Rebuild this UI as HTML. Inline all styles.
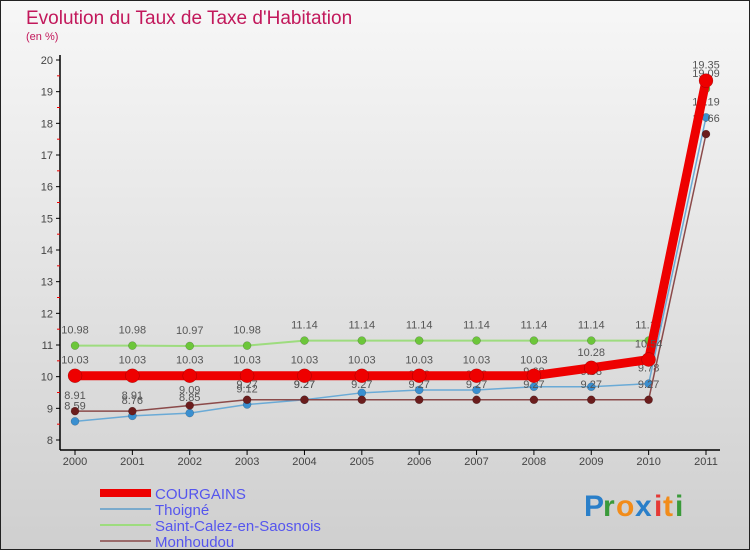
<!DOCTYPE html>
<html><head><meta charset="utf-8"><style>
body{margin:0;}
#wrap{width:750px;height:550px;position:relative;overflow:hidden;font-family:"Liberation Sans",sans-serif;}
svg text{font-family:"Liberation Sans",sans-serif;}
</style></head><body>
<div id="wrap">
<svg id="c" width="750" height="550" xmlns="http://www.w3.org/2000/svg">
<defs><linearGradient id="bg" x1="0" y1="0" x2="0" y2="1"><stop offset="0" stop-color="#f7f7f7"/><stop offset="1" stop-color="#cfcfcf"/></linearGradient></defs>
<rect x="0.5" y="0.5" width="749" height="549" fill="url(#bg)" stroke="#222"/>
<text x="26" y="24" font-size="19" fill="#c2185b">Evolution du Taux de Taxe d'Habitation</text>
<text x="26" y="40" font-size="11" fill="#c2185b">(en %)</text>
<g id="axes"></g><g id="series"></g><g id="legend"></g>
<g font-size="30" font-weight="bold">
<text x="584" y="516" fill="#2a7fc9">P</text><text x="603" y="516" fill="#3a9a3a">r</text><text x="616" y="516" fill="#f28c1a">o</text><text x="635" y="516" fill="#2a7fc9">x</text><text x="654" y="516" fill="#e53935">i</text><text x="663" y="516" fill="#f28c1a">t</text><text x="675" y="516" fill="#3a9a3a">i</text></g>
</svg></div>
<script>
const years=[2000,2001,2002,2003,2004,2005,2006,2007,2008,2009,2010,2011];
const yTicks=[8,9,10,11,12,13,14,15,16,17,18,19,20];
const courgains=[10.03,10.03,10.03,10.03,10.03,10.03,10.03,10.03,10.03,10.28,10.54,19.35];
const thoigne=[8.59,8.76,8.85,9.12,9.27,9.49,9.58,9.58,9.68,9.68,9.78,18.19];
const saintCalez=[10.98,10.98,10.97,10.98,11.14,11.14,11.14,11.14,11.14,11.14,11.14,19.09];
const monhoudou=[8.91,8.91,9.09,9.27,9.27,9.27,9.27,9.27,9.27,9.27,9.27,17.66];
const NS="http://www.w3.org/2000/svg";
function X(i){return 75+i*(706-75)/(years.length-1);}
function Y(v){return 440-(v-8)*(380/12);}
function mk(tag,attrs,parent){const e=document.createElementNS(NS,tag);for(const k in attrs)e.setAttribute(k,attrs[k]);parent.appendChild(e);return e;}
const ax=document.getElementById('axes');
let a=mk('line',{x1:60,y1:55,x2:60,y2:450,stroke:'#000','stroke-width':1.5},ax);


a=mk('line',{x1:60,y1:450,x2:720,y2:450,stroke:'#000','stroke-width':1.5},ax);


yTicks.forEach(v=>{const y=Y(v);
 mk('line',{x1:56,y1:y,x2:60,y2:y,stroke:'#000'},ax);
 if(v<20)mk('line',{x1:57,y1:Y(v+0.5),x2:60,y2:Y(v+0.5),stroke:'#e00'},ax);
 const t=mk('text',{x:53,y:y+4,'font-size':11,fill:'#444','text-anchor':'end'},ax);t.textContent=v;
 
 });
years.forEach((yr,i)=>{const x=X(i);
 mk('line',{x1:x,y1:450,x2:x,y2:455,stroke:'#000'},ax);
 const t=mk('text',{x:x,y:465,'font-size':11,fill:'#444','text-anchor':'middle'},ax);t.textContent=yr;
 
 });
const series=[
 {name:'saint-calez',label:'Saint-Calez-en-Saosnois',d:saintCalez,line:'#9ddc7e',w:2,dot:'#6cc63a',r:4},
 {name:'thoigne',label:'Thoigné',d:thoigne,line:'#6aaad6',w:1.5,dot:'#3a8fd0',r:4},
 {name:'monhoudou',label:'Monhoudou',d:monhoudou,line:'#8b4a4a',w:1.5,dot:'#6b1d1d',r:4},
 {name:'courgains',label:'COURGAINS',d:courgains,line:'#ee0000',w:9,dot:'#ee0000',r:7}];
const sg=document.getElementById('series');
series.forEach(s=>{const g=mk('g',{},sg);
 
 
 const p=mk('polyline',{points:s.d.map((v,i)=>X(i)+','+Y(v)).join(' '),fill:'none',stroke:s.line,'stroke-width':s.w,'stroke-linejoin':'round'},g);
 
 
 s.d.forEach((v,i)=>{const c=mk('circle',{cx:X(i),cy:Y(v),r:s.r,fill:s.dot,stroke:'rgba(0,0,0,0.3)','stroke-width':0.5},g);
  
  
  const t=mk('text',{x:X(i),y:Y(v)-12,'font-size':11,fill:'#555','text-anchor':'middle'},g);t.textContent=v.toFixed(2).replace(/0$/,'').replace(/\.$/,'');
  t.textContent=String(v);
  
  });});
const lg=document.getElementById('legend');
const leg=[{l:'COURGAINS',c:'#ee0000',w:8},{l:'Thoigné',c:'#7aaacc',w:2},{l:'Saint-Calez-en-Saosnois',c:'#9ddc7e',w:2},{l:'Monhoudou',c:'#9a6a6a',w:2}];
leg.forEach((e,i)=>{const y=493+i*16;const g=mk('g',{},lg);
 
 
 mk('line',{x1:100,y1:y,x2:151,y2:y,stroke:e.c,'stroke-width':e.w},g);
 const t=mk('text',{x:155,y:y+6,'font-size':15,fill:'#5555ee'},g);t.textContent=e.l;});
</script>
</body></html>
